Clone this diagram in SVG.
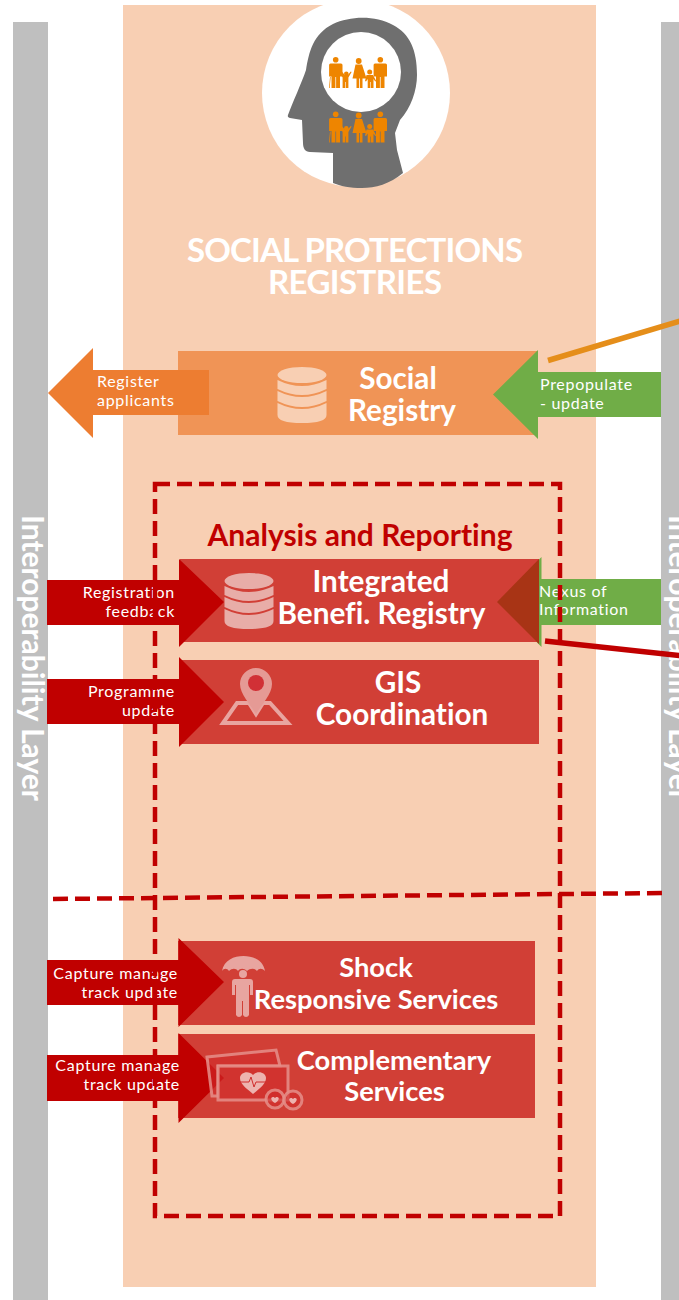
<svg xmlns="http://www.w3.org/2000/svg" width="679" height="1300" viewBox="0 0 679 1300">
<style>
text{font-family:"Lato","Open Sans","Liberation Sans",sans-serif;font-variant-ligatures:none}
.h{font-weight:700;font-size:29.700px;fill:#fff;text-anchor:middle}
.s{font-size:27.300px}
.l{font-size:16px;fill:#fff;letter-spacing:.7px}
.r{text-anchor:end}
.box{fill:#D13F36}
.ar{fill:#C00000}
.gr{fill:#70AD47}
.or{fill:#ED7D31}
.dash{fill:none;stroke:#C00000;stroke-width:4.500;stroke-dasharray:15 7}
.fam{fill:#EE8500}
.bar{fill:#BFBFBF}
.side{font-weight:700;font-size:30px;fill:#fff;text-anchor:middle}
</style>
<defs>
<g id="family">
<circle cx="6.700" cy="2.700" r="2.800"/><path d="M1.500 6.500h10.500a1.500 1.500 0 0 1 1.500 1.500v11.500h-2.500v11.500h-3.900v-11h-.7v11h-3.900v-11.500h-2.400V8a1.500 1.500 0 0 1 1.400-1.500z"/>
<path d="M0 31l1-11h.7l-1 11z"/>
<circle cx="17.300" cy="16.700" r="2.300"/><path d="M12.800 14.500l3 3.500h3l3-3.500 .8.600-3.200 5.400v10.500h-2.600v-6h-.6v6h-2.600V20.500l-3.200-5.400z"/>
<circle cx="29.700" cy="4" r="2.900"/><path d="M26.500 7.500h6.500l4.500 14h-4v9.500h-2.600v-9.500h-.8v9.500h-2.600v-9.500h-4z"/>
<circle cx="40.700" cy="15" r="2.500"/><path d="M37.500 18h6.500l3.200 6-1 .6-1.700-2.500v8.900h-2.600v-6h-.6v6h-2.600v-8.900l-1.700 2.500-1-.6z"/>
<circle cx="51.300" cy="2.700" r="2.800"/><path d="M46 6.500h10.500a1.500 1.500 0 0 1 1.500 1.500v11.500h-2.500v11.500h-3.900v-11h-.7v11h-3.900v-11.500h-2.400V8a1.500 1.500 0 0 1 1.400-1.500z"/>
</g>
<g id="db">
<ellipse cx="24.500" cy="8" rx="24.500" ry="8"/>
<path d="M0 13Q24.500 25 49 13V22Q24.500 34 0 22Z"/>
<path d="M0 24Q24.500 36 49 24V34Q24.500 46 0 34Z"/>
<path d="M0 36Q24.500 48 49 36V48Q49 56 24.500 56T0 48Z"/>
</g>
</defs>
<rect width="679" height="1300" fill="#fff"/>
<g id="left-layer"><rect class="bar" x="13" y="22" width="35" height="1278"/><text class="side" transform="translate(22 658) rotate(90)">Interoperability Layer</text></g>
<g id="right-layer"><rect class="bar" x="661" y="22" width="18" height="1278"/><text class="side" transform="translate(669 658) rotate(90)">Interoperability Layer</text></g>
<g id="panel"><rect x="123" y="5" width="473" height="1282" fill="#F8CFB3"/></g>
<g id="head-icon">
<circle cx="356" cy="93" r="94" fill="#fff"/>
<path d="M288 115C292 104 302 82 306 70C309 52 313 34 333 24C350 16 375 15 393 25C410 34 417 50 417 75C417 90 411 108 400 120L395 133L397 150L403 173C390 184 375 188 362 188C350 188 340 186 333 183L333 153L310 152C305 152 303 148 303 143L302 120L290 118Q287 117 288 115Z" fill="#6F6F6F"/>
<circle cx="361" cy="72" r="40" fill="#fff"/>
<use href="#family" class="fam" x="329" y="57"/>
<use href="#family" class="fam" x="329" y="111.500"/>
</g>
<g id="title"><text x="355" y="262" font-weight="700" font-size="33" fill="#fff" text-anchor="middle" textLength="336">SOCIAL PROTECTIONS</text><text x="355" y="294" font-weight="700" font-size="33" fill="#fff" text-anchor="middle" textLength="174">REGISTRIES</text></g>

<g id="social-registry">
<rect x="178" y="351" width="360" height="84" fill="#F09456"/>
<use href="#db" x="277.500" y="367" fill="#F8CFB3"/>
<text class="h" x="398" y="389">Social</text><text class="h" x="402" y="421">Registry</text>
</g>
<g id="register-applicants">
<polygon class="or" points="48,393 93,348 93,370 209,370 209,415 93,415 93,438"/>
<text class="l" x="97" y="387">Register</text><text class="l" x="97" y="406">applicants</text>
</g>
<g id="prepopulate">
<polygon class="gr" points="493,394.500 538,350 538,372 661,372 661,417 538,417 538,439"/>
<text class="l" x="540" y="390">Prepopulate</text><text class="l" x="540" y="409">- update</text>
</g>

<g id="analysis-title"><text x="360" y="546" font-weight="700" font-size="30" fill="#C00000" text-anchor="middle">Analysis and Reporting</text></g>

<g id="nexus">
<polygon class="gr" points="497,602 541.500,557 541.500,579 661,579 661,625 541.500,625 541.500,647"/>
</g>
<g id="integrated-registry">
<rect class="box" x="180" y="559" width="359" height="83"/>
<polygon fill="#A83415" points="497,602 539,559 539,644"/>
<text class="h" x="381" y="592">Integrated</text><text class="h" x="381.500" y="624">Benefi. Registry</text>
</g>
<g id="nexus-label"><text class="l" x="539" y="597">Nexus of</text><text class="l" x="539" y="615">Information</text></g>
<g id="registration-feedback">
<polygon class="ar" points="47,580 179,580 179,559 224,602 179,647 179,625 47,625"/>
<text class="l r" x="175" y="598">Registration</text><text class="l r" x="175" y="617">feedback</text>
<use href="#db" x="224.500" y="573" fill="#E8ADA8"/>
</g>
<g id="gis-coordination">
<rect class="box" x="180" y="660" width="359" height="84"/>
<polygon class="ar" points="47,679 179,679 179,657 224,702 179,747 179,724 47,724"/>
<text class="l r" x="175" y="697">Programme</text><text class="l r" x="175" y="716">update</text>
<polygon points="237,703 249,703 256,714 263,703 270,703 288,723 223,723" fill="none" stroke="#E8A5A0" stroke-width="4"/>
<path d="M256 714C250 704 240 694 240 684A16 16 0 0 1 272 684C272 694 262 704 256 714Z" fill="#E59A95"/>
<circle cx="256" cy="683" r="8" fill="#D13036"/>
<text class="h" x="398" y="693">GIS</text><text class="h" x="402" y="725">Coordination</text>
</g>

<g id="shock-services">
<rect class="box" x="178" y="941" width="357" height="84"/>
<polygon class="ar" points="47,960 178.500,960 178.500,938 224,982 178.500,1027 178.500,1005 47,1005"/>
<text class="l r" x="178" y="979">Capture manage</text><text class="l r" x="178" y="998">track update</text>
<g fill="#E8A5A0">
<path d="M222 971C224 960 234 956 243.500 956S263 960 265 971C262 968 259 968 257 971C255 968 250 968 247 971C244 968 240 968 238 971C236 968 232 968 229 971C227 968 224 968 222 971Z"/>
<circle cx="243" cy="974" r="4"/>
<path d="M236 979h14q3 0 3 3v13h-3v-10h-1v30q-1 2-3 2t-3-2v-14h-1v14q-1 2-3 2t-3-2v-30h-1v10h-3v-13q0-3 3-3z"/>
</g>
<text class="h s" x="376" y="977">Shock</text><text class="h s" x="376" y="1009">Responsive Services</text>
</g>
<g id="complementary-services">
<rect class="box" x="178" y="1034" width="357" height="84"/>
<polygon class="ar" points="47,1055 178.500,1055 178.500,1033 224,1078 178.500,1123 178.500,1101 47,1101"/>
<text class="l r" x="180" y="1071">Capture manage</text><text class="l r" x="180" y="1090">track update</text>
<g fill="#D02C2C" fill-opacity=".6" stroke="#E58F8A" stroke-opacity=".85" stroke-width="3">
<polygon points="207,1057 276,1050 280,1066 218,1066 218,1096 212,1096"/>
<rect x="218" y="1066" width="70" height="34"/>
<circle cx="275" cy="1099" r="9"/>
<circle cx="293" cy="1100" r="9"/>
</g>
<path d="M253 1094C246 1088 240 1084 240 1078C240 1072 249 1070 253 1075C257 1070 266 1072 266 1078C266 1084 260 1088 253 1094Z" fill="#EDB3AF"/>
<polyline points="240,1082 249,1082 251,1077 254,1087 256,1082 266,1082" fill="none" stroke="#D02C2C" stroke-width="1"/>
<path d="M275 1103c-4-2-5-6-2-6 1 0 1.500.5 2 1 .5-.5 1-1 2-1 3 0 2 4-2 6zM293 1104c-4-2-5-6-2-6 1 0 1.500.5 2 1 .5-.5 1-1 2-1 3 0 2 4-2 6z" fill="#EDB3AF"/>
<text class="h s" x="394" y="1070">Complementary</text><text class="h s" x="394.500" y="1101">Services</text>
</g>

<g id="connectors">
<line x1="548" y1="360.500" x2="684" y2="320" stroke="#E58E1A" stroke-width="5.500"/>
<line x1="545" y1="641" x2="684" y2="656" stroke="#C00000" stroke-width="5.500"/>
<rect class="dash" x="155" y="484" width="405" height="732"/>
<line class="dash" x1="53" y1="899" x2="664" y2="893"/>
</g>
</svg>
